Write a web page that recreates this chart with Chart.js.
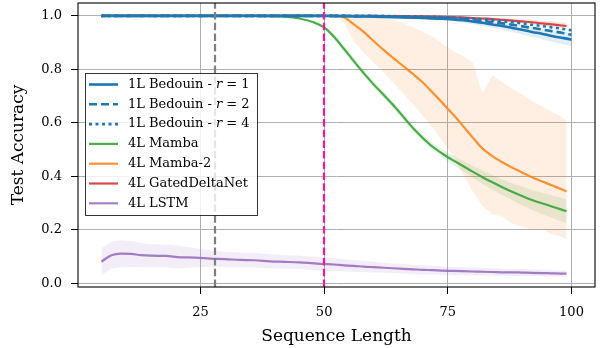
<!DOCTYPE html>
<html>
<head>
<meta charset="utf-8">
<script src="https://cdn.jsdelivr.net/npm/chart.js@4.4.1/dist/chart.umd.min.js"></script>
<style>
  html, body { margin: 0; padding: 0; background: #fff; }
  canvas { display: block; }
</style>
</head>
<body>
<canvas id="chart" width="601" height="348"></canvas>
<script>
const lengths = [5, 7, 9, 11, 13, 15, 18, 21, 24, 27, 30, 33, 36, 39, 42, 45, 48, 50, 52, 54, 56, 58, 60, 62, 64, 66, 68, 70, 72, 74, 76, 78, 80, 82, 84, 86, 88, 90, 92, 94, 96, 98, 99];
const bedouinLengths = lengths.concat([100]);

const bedouinR1 = [1, 1, 1, 1, 1, 1, 1, 1, 1, 1, 1, 1, 1, 1, 1, 1, 1, 1, 0.999, 0.999, 0.998, 0.998, 0.997, 0.996, 0.995, 0.994, 0.993, 0.992, 0.99, 0.989, 0.987, 0.984, 0.979, 0.974, 0.968, 0.962, 0.955, 0.948, 0.94, 0.933, 0.925, 0.918, 0.915, 0.911];
const bedouinR2 = [1, 1, 1, 1, 1, 1, 1, 1, 1, 1, 1, 1, 1, 1, 1, 1, 1, 1, 1, 1, 0.999, 0.999, 0.999, 0.998, 0.997, 0.996, 0.995, 0.994, 0.993, 0.992, 0.99, 0.988, 0.985, 0.981, 0.977, 0.972, 0.967, 0.961, 0.955, 0.949, 0.943, 0.937, 0.933, 0.929];
const bedouinR4 = [1, 1, 1, 1, 1, 1, 1, 1, 1, 1, 1, 1, 1, 1, 1, 1, 1, 1, 1, 1, 1, 1, 1, 0.999, 0.999, 0.998, 0.998, 0.997, 0.996, 0.995, 0.994, 0.992, 0.99, 0.987, 0.984, 0.98, 0.976, 0.972, 0.967, 0.962, 0.957, 0.952, 0.949, 0.946];
const bedouinSpread = [0, 0, 0, 0, 0, 0, 0, 0, 0, 0, 0, 0, 0, 0, 0, 0, 0, 0, 0, 0, 0, 0, 0, 0.002, 0.003, 0.003, 0.004, 0.005, 0.006, 0.007, 0.008, 0.009, 0.01, 0.012, 0.013, 0.014, 0.016, 0.017, 0.019, 0.02, 0.022, 0.023, 0.024, 0.025];

const gatedDeltaNet = [1, 1, 1, 1, 1, 1, 1, 1, 1, 1, 1, 1, 1, 1, 1, 1, 1, 1, 1, 1, 1, 1, 1, 1, 0.999, 0.999, 0.998, 0.998, 0.997, 0.996, 0.995, 0.994, 0.992, 0.99, 0.988, 0.985, 0.982, 0.979, 0.976, 0.972, 0.968, 0.964, 0.962];
const gatedDeltaNetSpread = [0, 0, 0, 0, 0, 0, 0, 0, 0, 0, 0, 0, 0, 0, 0, 0, 0, 0, 0, 0, 0, 0, 0, 0, 0.001, 0.001, 0.002, 0.002, 0.003, 0.003, 0.004, 0.004, 0.005, 0.006, 0.006, 0.007, 0.008, 0.008, 0.009, 0.01, 0.011, 0.012, 0.012];

const mamba = [1, 1, 1, 1, 1, 1, 1, 1, 1, 1, 1, 1, 1, 0.999, 0.997, 0.99, 0.975, 0.957, 0.922, 0.877, 0.831, 0.786, 0.744, 0.705, 0.666, 0.623, 0.58, 0.543, 0.51, 0.484, 0.461, 0.44, 0.418, 0.397, 0.378, 0.36, 0.343, 0.327, 0.312, 0.3, 0.288, 0.276, 0.27];
const mambaSpread = [0, 0, 0, 0, 0, 0, 0, 0, 0, 0, 0, 0, 0, 0, 0, 0.003, 0.005, 0.007, 0.01, 0.012, 0.012, 0.012, 0.012, 0.012, 0.012, 0.012, 0.012, 0.012, 0.013, 0.015, 0.018, 0.02, 0.022, 0.025, 0.027, 0.03, 0.032, 0.035, 0.037, 0.04, 0.042, 0.044, 0.045];

const mamba2 = [1, 1, 1, 1, 1, 1, 1, 1, 1, 1, 1, 1, 1, 1, 1, 1, 1, 1, 1, 0.995, 0.968, 0.94, 0.906, 0.873, 0.842, 0.812, 0.782, 0.75, 0.712, 0.673, 0.633, 0.59, 0.546, 0.505, 0.476, 0.453, 0.433, 0.415, 0.397, 0.382, 0.367, 0.352, 0.344];
const mamba2Upper = [1, 1, 1, 1, 1, 1, 1, 1, 1, 1, 1, 1, 1, 1, 1, 1, 1, 1, 1, 1, 0.999, 0.997, 0.994, 0.99, 0.984, 0.972, 0.957, 0.94, 0.922, 0.895, 0.87, 0.85, 0.828, 0.71, 0.778, 0.752, 0.728, 0.706, 0.684, 0.662, 0.643, 0.622, 0.608];
const mamba2Lower = [1, 1, 1, 1, 1, 1, 1, 1, 1, 1, 1, 1, 1, 1, 1, 1, 1, 1, 1, 0.975, 0.905, 0.862, 0.825, 0.79, 0.748, 0.71, 0.67, 0.625, 0.58, 0.53, 0.478, 0.41, 0.345, 0.29, 0.258, 0.25, 0.224, 0.213, 0.198, 0.205, 0.185, 0.173, 0.167];

const lstm = [0.082, 0.106, 0.112, 0.111, 0.106, 0.104, 0.103, 0.098, 0.097, 0.093, 0.091, 0.088, 0.087, 0.083, 0.081, 0.079, 0.075, 0.073, 0.071, 0.068, 0.066, 0.063, 0.061, 0.059, 0.057, 0.055, 0.053, 0.051, 0.05, 0.048, 0.047, 0.046, 0.045, 0.044, 0.043, 0.042, 0.042, 0.041, 0.04, 0.039, 0.038, 0.037, 0.037];
const lstmSpread = [0.05, 0.05, 0.05, 0.048, 0.045, 0.043, 0.043, 0.042, 0.035, 0.03, 0.028, 0.028, 0.027, 0.026, 0.026, 0.025, 0.025, 0.025, 0.024, 0.023, 0.022, 0.021, 0.02, 0.019, 0.018, 0.018, 0.017, 0.017, 0.016, 0.016, 0.015, 0.015, 0.015, 0.014, 0.014, 0.013, 0.013, 0.013, 0.012, 0.012, 0.012, 0.012, 0.012];

const markerLengths = [28, 50];
const markerColors = ['#7f7f7f', '#ff1493'];
const xTicks = [25, 50, 75, 100];
const yTicks = [0, 0.2, 0.4, 0.6, 0.8, 1.0];
const xTitle = 'Sequence Length';
const yTitle = 'Test Accuracy';

const SERIF = "'DejaVu Serif', serif";
const BLUE = '#1f77b4';

const pts = (xs, ys) => ys.map((y, i) => ({x: xs[i], y: y}));
const line = (label, xs, ys, color, width, dash) => ({
	label: label,
	data: pts(xs, ys),
	borderColor: color,
	borderWidth: width,
	borderDash: dash || [],
	pointRadius: 0,
	fill: false,
	cubicInterpolationMode: 'monotone'
});
const bandEdge = (xs, ys, fillColor) => ({
	data: pts(xs, ys),
	borderWidth: 0,
	borderColor: 'rgba(0,0,0,0)',
	backgroundColor: fillColor,
	pointRadius: 0,
	fill: fillColor ? '+1' : false,
	tension: 0
});
const plus = (m, s) => m.map((v, i) => v + s[i]);
const minus = (m, s) => m.map((v, i) => v - s[i]);

// legend rows: label parts, colour, width, dash
const legendRows = [
	{text: ['1L Bedouin - ', 'r', ' = 1'], color: BLUE, width: 2.6, dash: []},
	{text: ['1L Bedouin - ', 'r', ' = 2'], color: BLUE, width: 2.6, dash: [8, 4]},
	{text: ['1L Bedouin - ', 'r', ' = 4'], color: BLUE, width: 2.6, dash: [3, 3.5]},
	{text: ['4L Mamba'], color: 'rgba(44,160,44,0.85)', width: 2.2, dash: []},
	{text: ['4L Mamba-2'], color: 'rgba(255,127,14,0.85)', width: 2.2, dash: []},
	{text: ['4L GatedDeltaNet'], color: 'rgba(214,39,40,0.85)', width: 2.2, dash: []},
	{text: ['4L LSTM'], color: 'rgba(148,103,189,0.85)', width: 2.2, dash: []}
];

const datasets = [
	line('1L Bedouin - r = 4', bedouinLengths, bedouinR4, BLUE, 2.6, [3, 3.5]),
	line('1L Bedouin - r = 2', bedouinLengths, bedouinR2, BLUE, 2.6, [8, 4]),
	line('1L Bedouin - r = 1', bedouinLengths, bedouinR1, BLUE, 2.6),
	line('4L GatedDeltaNet', lengths, gatedDeltaNet, 'rgba(214,39,40,0.85)', 2.2),
	line('4L Mamba-2', lengths, mamba2, 'rgba(255,127,14,0.85)', 2.2),
	line('4L Mamba', lengths, mamba, 'rgba(44,160,44,0.85)', 2.2),
	line('4L LSTM', lengths, lstm, 'rgba(148,103,189,0.85)', 2.2),
	bandEdge(bedouinLengths, plus(bedouinR1, bedouinSpread), 'rgba(31,119,180,0.12)'),
	bandEdge(bedouinLengths, minus(bedouinR1, bedouinSpread)),
	bandEdge(lengths, plus(gatedDeltaNet, gatedDeltaNetSpread), 'rgba(214,39,40,0.12)'),
	bandEdge(lengths, minus(gatedDeltaNet, gatedDeltaNetSpread)),
	bandEdge(lengths, mamba2Upper, 'rgba(255,127,14,0.12)'),
	bandEdge(lengths, mamba2Lower),
	bandEdge(lengths, plus(mamba, mambaSpread), 'rgba(44,160,44,0.12)'),
	bandEdge(lengths, minus(mamba, mambaSpread)),
	bandEdge(lengths, plus(lstm, lstmSpread), 'rgba(148,103,189,0.12)'),
	bandEdge(lengths, minus(lstm, lstmSpread))
];

const markerPlugin = {
	id: 'markers',
	afterDatasetsDraw(chart) {
		const ctx = chart.ctx;
		const area = chart.chartArea;
		const xs = chart.scales.x;
		ctx.save();
		ctx.beginPath();
		ctx.rect(area.left, area.top, area.right - area.left, area.bottom - area.top);
		ctx.clip();
		markerLengths.forEach((v, i) => {
			const px = Math.round(xs.getPixelForValue(v));
			ctx.strokeStyle = markerColors[i];
			ctx.lineWidth = 2.2;
			ctx.setLineDash([7.5, 3.2]);
			ctx.beginPath();
			ctx.moveTo(px, area.bottom);
			ctx.lineTo(px, area.top);
			ctx.stroke();
		});
		ctx.restore();
	}
};

const framePlugin = {
	id: 'frame',
	afterDraw(chart) {
		const ctx = chart.ctx;
		const a = chart.chartArea;
		ctx.save();
		// legend box
		const lx = 85, ly = 73.5, lw = 172, lh = 142, rowH = 19.8;
		ctx.fillStyle = 'rgba(255,255,255,0.8)';
		ctx.fillRect(lx, ly, lw, lh);
		ctx.strokeStyle = 'rgba(0,0,0,0.8)';
		ctx.lineWidth = 1;
		ctx.strokeRect(lx + 0.5, ly, lw, lh);
		legendRows.forEach((row, i) => {
			const cy = ly + 11 + i * rowH;
			ctx.strokeStyle = row.color;
			ctx.lineWidth = row.width;
			ctx.setLineDash(row.dash);
			ctx.beginPath();
			ctx.moveTo(89, cy);
			ctx.lineTo(118, cy);
			ctx.stroke();
			ctx.setLineDash([]);
			let tx = 128;
			ctx.fillStyle = '#000';
			ctx.textBaseline = 'middle';
			row.text.forEach((part, j) => {
				ctx.font = (j === 1 ? 'italic ' : '') + '13px ' + SERIF;
				ctx.fillText(part, tx, cy);
				tx += ctx.measureText(part).width;
			});
		});
		// axes frame
		ctx.strokeStyle = '#000';
		ctx.lineWidth = 1.1;
		ctx.strokeRect(a.left, a.top, a.right - a.left, a.bottom - a.top);
		ctx.restore();
	}
};

const tickFont = {family: SERIF, size: 13};
const titleFont = {family: SERIF, size: 17};

new Chart(document.getElementById('chart').getContext('2d'), {
	type: 'line',
	data: {datasets: datasets},
	options: {
		responsive: false,
		animation: false,
		devicePixelRatio: 1,
		layout: {padding: {left: 0, right: 6, top: 3, bottom: 0}},
		plugins: {
			legend: {display: false},
			tooltip: {enabled: false},
			filler: {drawTime: 'beforeDatasetsDraw'}
		},
		scales: {
			x: {
				type: 'linear',
				min: 0.25,
				max: 104.75,
				afterBuildTicks: s => { s.ticks = xTicks.map(v => ({value: v})); },
				afterFit: s => { s.height = 61; s.paddingLeft = 0; s.paddingRight = 0; },
				grid: {color: '#b0b0b0', lineWidth: 1, tickColor: '#000', tickLength: 7},
				border: {display: false},
				ticks: {font: tickFont, color: '#000', padding: 11, autoSkip: false, maxRotation: 0, callback: v => String(v)},
				title: {display: true, text: xTitle, font: titleFont, color: '#000', padding: {top: 0, bottom: 1}}
			},
			y: {
				type: 'linear',
				min: -0.013,
				max: 1.048,
				afterBuildTicks: s => { s.ticks = yTicks.map(v => ({value: v})); },
				afterFit: s => { s.width = 78; s.paddingTop = 0; s.paddingBottom = 0; },
				grid: {color: '#b0b0b0', lineWidth: 1, tickColor: '#000', tickLength: 7},
				border: {display: false},
				ticks: {font: tickFont, color: '#000', padding: 9, autoSkip: false, callback: v => v.toFixed(1)},
				title: {display: true, text: yTitle, font: titleFont, color: '#000', padding: {top: 8, bottom: 0}}
			}
		}
	},
	plugins: [markerPlugin, framePlugin]
});
</script>
</body>
</html>
